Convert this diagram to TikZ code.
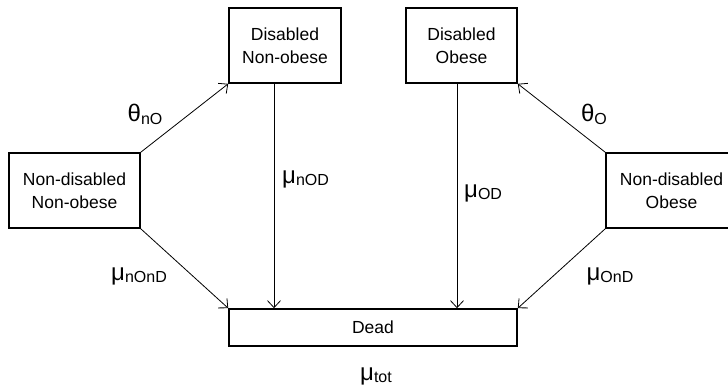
\documentclass[tikz,border=0pt]{standalone}
\usepackage{fontspec}
\setmainfont{Liberation Sans}
\usetikzlibrary{arrows.meta}
\newcommand{\lab}[2]{{\fontsize{24}{24}\selectfont #1}\raisebox{-0.28em}{\fontsize{16}{16}\selectfont #2}}
\begin{document}
\begin{tikzpicture}[x=1pt,y=-1pt,
  box/.style={draw, line width=1.6pt, align=center, inner sep=0pt,
    font=\fontsize{17.5}{23}\selectfont},
  arr/.style={line width=0.8pt, -{Straight Barb[length=7pt,width=13pt,line width=0.8pt]}},
  lbl/.style={inner sep=0pt}]
\useasboundingbox (0,0) rectangle (728,386);
\node[box, minimum width=112pt, minimum height=75pt] (dno) at (285,45.5) {Disabled\\Non-obese};
\node[box, minimum width=111pt, minimum height=75pt] (do) at (461.5,45.5) {Disabled\\Obese};
\node[box, minimum width=131pt, minimum height=75pt] (ndno) at (74.5,190.5) {Non-disabled\\Non-obese};
\node[box, minimum width=131pt, minimum height=75pt, text width=131pt] (ndo) at (671.5,190.5) {Non-disabled\\Obese};
\node[box, minimum width=288pt, minimum height=37pt] (dead) at (373,327.5) {Dead};
\draw[arr] (ndno.north east) -- (dno.south west);
\draw[arr] ([xshift=-11pt]dno.south) -- ([xshift=-11pt]dno.south |- dead.north);
\draw[arr] ([xshift=-4.5pt]do.south) -- ([xshift=-4.5pt]do.south |- dead.north);
\draw[arr] (ndno.south east) -- (dead.north west);
\draw[arr] (ndo.south west) -- (dead.north east);
\draw[arr] (ndo.north west) -- (do.south east);
\node[lbl] (l1) at (145,114) {\lab{θ}{nO}};
\node[lbl, anchor=west] (l2) at (282,179) {\lab{μ}{nOD}};
\node[lbl] (l3) at (594,114) {\lab{θ}{O}};
\node[lbl, anchor=west] (l4) at (464,193) {\lab{μ}{OD}};
\node[lbl] (l5) at (139,276) {\lab{μ}{nOnD}};
\node[lbl] (l6) at (610,276) {\lab{μ}{OnD}};
\node[lbl] (l7) at (376,376) {\lab{μ}{tot}};
\end{tikzpicture}
\end{document}
